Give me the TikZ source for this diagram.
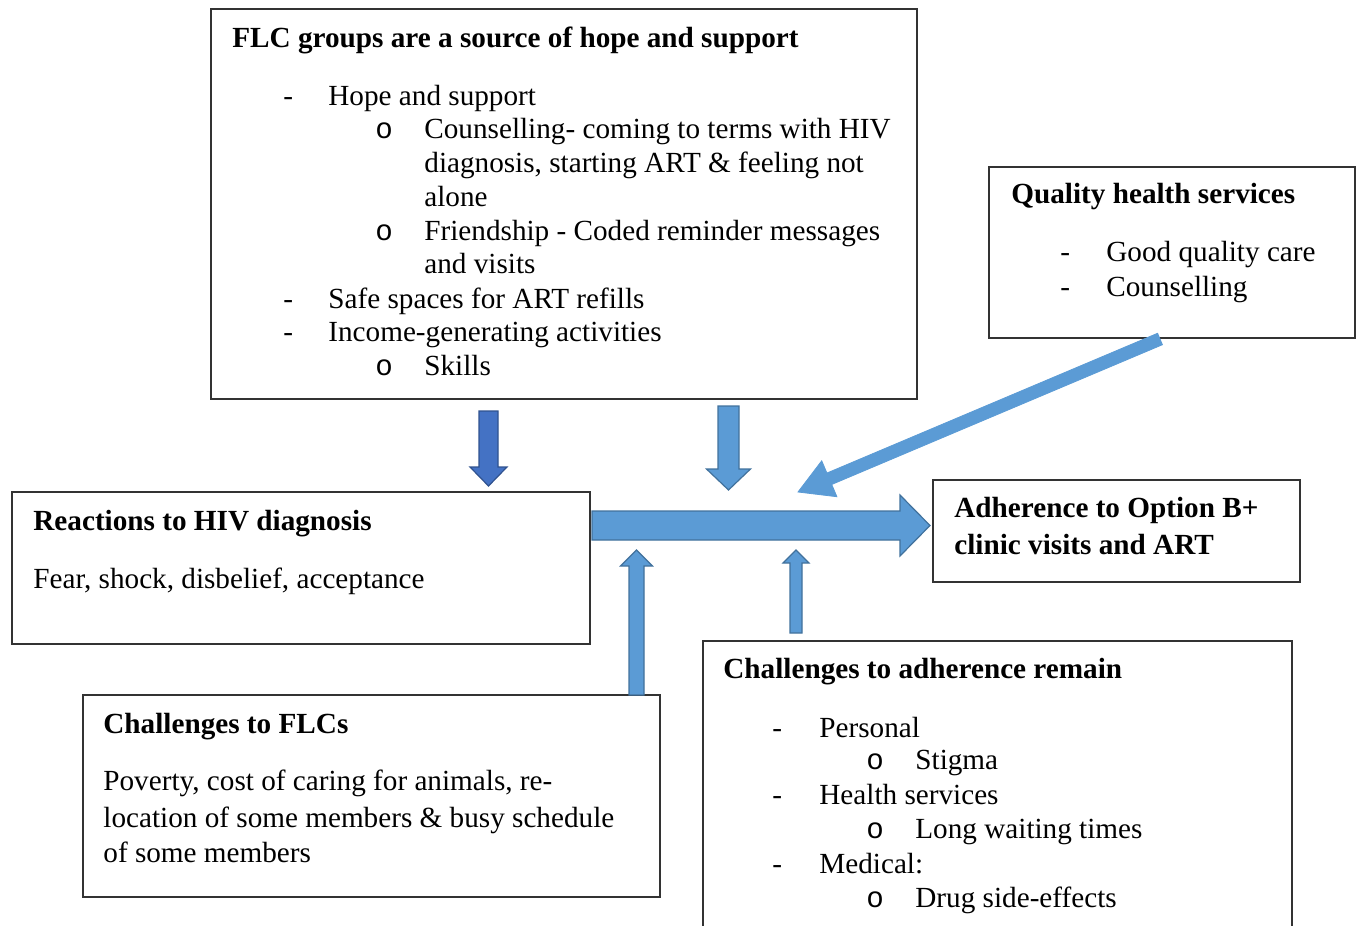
\documentclass[tikz,border=0pt]{standalone}
\usepackage{fontspec}
\setmainfont{Liberation Serif}
\newfontfamily\bulletfont{Liberation Mono}
\usetikzlibrary{calc}
\definecolor{ablue}{HTML}{5B9BD5}
\definecolor{ablueln}{HTML}{41719C}
\definecolor{dblue}{HTML}{4472C4}
\definecolor{dblueln}{HTML}{2F528F}
\definecolor{boxln}{HTML}{333333}
% #1 style, #2 tail, #3 tip, #4 shaft half width, #5 head half width, #6 head length
\newcommand\BlockArr[6]{%
  \coordinate (hb) at ($(#3)!#6!(#2)$);
  \filldraw[#1] ($(#2)!#4!90:(#3)$) -- ($(hb)!#4!90:(#3)$) -- ($(hb)!#5!90:(#3)$) -- (#3)
     -- ($(hb)!#5!-90:(#3)$) -- ($(hb)!#4!-90:(#3)$) -- ($(#2)!#4!-90:(#3)$) -- cycle;}
\begin{document}
\begin{tikzpicture}[x=0.5pt,y=-0.5pt,
  box/.style={draw=boxln, line width=1pt, fill=white, inner sep=0, outer sep=0, anchor=north west},
  txt/.style={inner sep=0, anchor=base west, font=\fontsize{14.6}{16.85}\selectfont},
  bul/.style={inner sep=0, anchor=base west, font=\fontsize{14.6}{16.85}\bulletfont},
  ttl/.style={inner sep=0, anchor=base west, font=\fontsize{14.6}{16.85}\selectfont\bfseries},
  larrow/.style={fill=ablue, draw=ablueln, line width=0.6pt, line join=miter},
  sarrow/.style={fill=ablue, draw=ablue, line width=0.4pt, line join=miter},
  darrow/.style={fill=dblue, draw=dblueln, line width=0.6pt, line join=miter}]
\useasboundingbox (0,0) rectangle (1357,926);

% ---------- boxes ----------
\node[box, minimum width=353pt, minimum height=195pt] (flc) at (211,9) {};
\node[box, minimum width=183pt, minimum height=85.5pt] (qual) at (989,167) {};
\node[box, minimum width=289pt, minimum height=76pt] (react) at (12,492) {};
\node[box, minimum width=183.5pt, minimum height=51pt] (adh) at (933,480) {};
\node[box, minimum width=288.5pt, minimum height=101pt] (chflc) at (83,695) {};
\node[inner sep=0, outer sep=0, anchor=north west, minimum width=294.5pt, minimum height=142.5pt, fill=white] (chadh) at (703,641) {};
\draw[draw=boxln, line width=1pt] (chadh.south west) -- (chadh.north west) -- (chadh.north east) -- (chadh.south east);

% ---------- FLC box text ----------
\node[ttl] (flcT) at (232,47) {FLC groups are a source of hope and support};
\node[txt] (fd1) at (283,105) {-};
\node[txt] (f1) at (328,105) {Hope and support};
\node[bul] (fo1) at (375,138.5) {o};
\node[txt] (f2) at (424,138.5) {Counselling- coming to terms with HIV};
\node[txt] (f3) at (424,172) {diagnosis, starting ART \& feeling not};
\node[txt] (f4) at (424,206) {alone};
\node[bul] (fo2) at (375,240) {o};
\node[txt] (f5) at (424,240) {Friendship - Coded reminder messages};
\node[txt] (f6) at (424,273) {and visits};
\node[txt] (fd2) at (283,308) {-};
\node[txt] (f7) at (328,308) {Safe spaces for ART refills};
\node[txt] (fd3) at (283,341) {-};
\node[txt] (f8) at (328,341) {Income-generating activities};
\node[bul] (fo3) at (375,375) {o};
\node[txt] (f9) at (424,375) {Skills};

% ---------- Quality box text ----------
\node[ttl] (qT) at (1011,203) {Quality health services};
\node[txt] (qd1) at (1060,261) {-};
\node[txt] (q1) at (1106,261) {Good quality care};
\node[txt] (qd2) at (1060,296) {-};
\node[txt] (q2) at (1106,296) {Counselling};

% ---------- Reactions ----------
\node[ttl] (rT) at (33,530) {Reactions to HIV diagnosis};
\node[txt] (r1) at (33,588) {Fear, shock, disbelief, acceptance};

% ---------- Adherence ----------
\node[ttl] (aT1) at (954,517) {Adherence to Option B+};
\node[ttl] (aT2) at (954,554) {clinic visits and ART};

% ---------- Challenges to FLCs ----------
\node[ttl] (cT) at (103,733) {Challenges to FLCs};
\node[txt] (c1) at (103,790) {Poverty, cost of caring for animals, re-};
\node[txt] (c2) at (103,827) {location of some members \& busy schedule};
\node[txt] (c3) at (103,862) {of some members};

% ---------- Challenges to adherence ----------
\node[ttl] (hT) at (723,678) {Challenges to adherence remain};
\node[txt] (hd1) at (772,737) {-};
\node[txt] (h1) at (819,737) {Personal};
\node[bul] (ho1) at (866,769) {o};
\node[txt] (h2) at (915,769) {Stigma};
\node[txt] (hd2) at (772,804) {-};
\node[txt] (h3) at (819,804) {Health services};
\node[bul] (ho2) at (866,838) {o};
\node[txt] (h4) at (915,838) {Long waiting times};
\node[txt] (hd3) at (772,873) {-};
\node[txt] (h5) at (819,873) {Medical:};
\node[bul] (ho3) at (866,907) {o};
\node[txt] (h6) at (915,907) {Drug side-effects};

% ---------- arrows ----------
\coordinate (mS) at ($(react.north east)+(2,33.5)$);
\coordinate (mT) at ($(mS -| adh.west)+(-3,0)$);
\BlockArr{larrow}{mS}{mT}{7.25pt}{15.25pt}{15pt}

\coordinate (dS) at ($(flc.south west)+(277.5,12)$);
\coordinate (dT) at ($(flc.south west)+(277.5,87)$);
\BlockArr{darrow}{dS}{dT}{4.75pt}{9.25pt}{9.5pt}

\coordinate (eS) at ($(flc.south west)+(517.5,7)$);
\coordinate (eT) at ($(flc.south west)+(517.5,91)$);
\BlockArr{larrow}{eS}{eT}{5.25pt}{11pt}{10.5pt}

\coordinate (gS) at ($(qual.south west)+(171,1)$);
\coordinate (gT) at ($(adh.north west)+(-135,12)$);
\BlockArr{sarrow}{gS}{gT}{3.1pt}{9.75pt}{17pt}

\coordinate (uS) at ($(chflc.north west)+(553.5,0)$);
\coordinate (uT) at ($(chflc.north west)+(553.5,-145)$);
\BlockArr{larrow}{uS}{uT}{3.75pt}{8pt}{8pt}

\coordinate (vS) at ($(chadh.north west)+(93,-8)$);
\coordinate (vT) at ($(chadh.north west)+(93,-91)$);
\BlockArr{larrow}{vS}{vT}{3pt}{6.5pt}{6.5pt}
\end{tikzpicture}
\end{document}
